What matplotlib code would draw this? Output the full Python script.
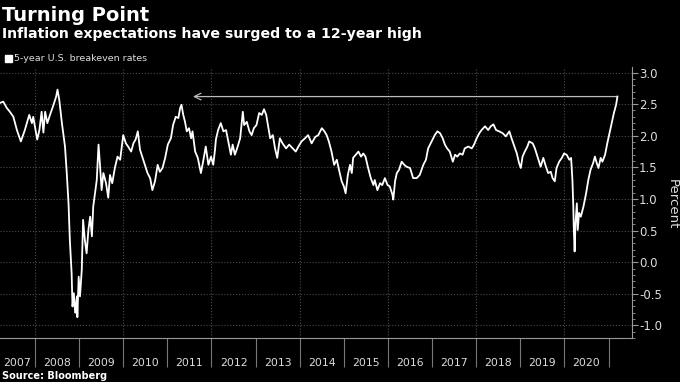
import matplotlib
matplotlib.use('Agg')
import matplotlib.pyplot as plt
from matplotlib.ticker import MultipleLocator, FixedLocator, NullFormatter

# 5-year U.S. breakeven rate (decimal year, percent)
years = [
    2007.21, 2007.28, 2007.36, 2007.43, 2007.51, 2007.59, 2007.68, 2007.77, 2007.87, 2007.93,
    2007.96, 2008.05, 2008.10, 2008.15, 2008.19, 2008.23, 2008.28, 2008.34, 2008.42, 2008.48,
    2008.51, 2008.55, 2008.61, 2008.68, 2008.72, 2008.76, 2008.79, 2008.83, 2008.85, 2008.88,
    2008.91, 2008.95, 2008.96, 2008.99, 2009.02, 2009.06, 2009.09, 2009.13, 2009.17, 2009.21,
    2009.25, 2009.29, 2009.32, 2009.36, 2009.40, 2009.44, 2009.47, 2009.51, 2009.55, 2009.61,
    2009.66, 2009.70, 2009.75, 2009.81, 2009.87, 2009.93, 2010.00, 2010.06, 2010.11, 2010.18,
    2010.23, 2010.28, 2010.33, 2010.38, 2010.43, 2010.49, 2010.55, 2010.61, 2010.66, 2010.72,
    2010.78, 2010.83, 2010.89, 2010.95, 2011.01, 2011.08, 2011.13, 2011.19, 2011.25, 2011.29,
    2011.32, 2011.36, 2011.40, 2011.44, 2011.49, 2011.54, 2011.57, 2011.63, 2011.69, 2011.76,
    2011.81, 2011.87, 2011.93, 2011.99, 2012.04, 2012.08, 2012.10, 2012.15, 2012.21, 2012.27,
    2012.33, 2012.38, 2012.44, 2012.48, 2012.53, 2012.58, 2012.65, 2012.71, 2012.74, 2012.80,
    2012.86, 2012.91, 2012.96, 2013.02, 2013.08, 2013.14, 2013.19, 2013.24, 2013.29, 2013.33,
    2013.39, 2013.44, 2013.49, 2013.55, 2013.61, 2013.69, 2013.76, 2013.84, 2013.91, 2013.97,
    2014.04, 2014.12, 2014.19, 2014.27, 2014.35, 2014.42, 2014.50, 2014.56, 2014.61, 2014.66,
    2014.72, 2014.78, 2014.84, 2014.89, 2014.95, 2015.00, 2015.04, 2015.09, 2015.14, 2015.18,
    2015.21, 2015.27, 2015.33, 2015.39, 2015.44, 2015.49, 2015.55, 2015.61, 2015.67, 2015.70,
    2015.76, 2015.82, 2015.87, 2015.93, 2015.99, 2016.04, 2016.10, 2016.12, 2016.16, 2016.20,
    2016.25, 2016.31, 2016.37, 2016.42, 2016.50, 2016.57, 2016.65, 2016.72, 2016.80, 2016.86,
    2016.91, 2016.99, 2017.06, 2017.12, 2017.18, 2017.24, 2017.29, 2017.34, 2017.40, 2017.47,
    2017.52, 2017.57, 2017.63, 2017.69, 2017.74, 2017.82, 2017.90, 2017.95, 2018.01, 2018.07,
    2018.12, 2018.20, 2018.27, 2018.33, 2018.39, 2018.45, 2018.52, 2018.60, 2018.67, 2018.75,
    2018.80, 2018.85, 2018.92, 2018.97, 2019.01, 2019.05, 2019.10, 2019.16, 2019.20, 2019.28,
    2019.33, 2019.41, 2019.46, 2019.52, 2019.58, 2019.63, 2019.69, 2019.73, 2019.78, 2019.82,
    2019.88, 2019.94, 2019.99, 2020.05, 2020.11, 2020.15, 2020.18, 2020.20, 2020.21, 2020.23,
    2020.25, 2020.28, 2020.30, 2020.33, 2020.37, 2020.43, 2020.49, 2020.54, 2020.59, 2020.65,
    2020.69, 2020.73, 2020.77, 2020.82, 2020.86, 2020.92, 2020.97, 2021.01, 2021.07, 2021.12,
    2021.17, 2021.20,
]
rates = [
    2.52, 2.54, 2.44, 2.38, 2.30, 2.09, 1.91, 2.09, 2.33, 2.20,
    2.30, 1.94, 2.09, 2.38, 2.05, 2.38, 2.20, 2.33, 2.49, 2.62,
    2.73, 2.57, 2.20, 1.83, 1.41, 0.93, 0.35, -0.17, -0.70, -0.49,
    -0.80, -0.54, -0.87, -0.23, -0.54, -0.12, 0.67, 0.35, 0.14, 0.51,
    0.72, 0.41, 0.88, 1.09, 1.30, 1.86, 1.57, 1.14, 1.41, 1.25,
    1.02, 1.38, 1.25, 1.49, 1.67, 1.62, 2.01, 1.88, 1.83, 1.75,
    1.88, 1.94, 2.07, 1.78, 1.67, 1.54, 1.41, 1.33, 1.14, 1.28,
    1.54, 1.43, 1.49, 1.65, 1.86, 1.96, 2.17, 2.30, 2.28, 2.44,
    2.49, 2.33, 2.22, 2.07, 2.12, 1.96, 2.07, 1.75, 1.65, 1.41,
    1.59, 1.83, 1.54, 1.67, 1.54, 1.78, 1.94, 2.09, 2.20, 2.07,
    2.09, 1.91, 1.70, 1.86, 1.70, 1.80, 1.96, 2.38, 2.17, 2.22,
    2.07, 2.01, 2.12, 2.17, 2.36, 2.33, 2.42, 2.33, 2.12, 1.96,
    2.01, 1.80, 1.65, 1.96, 1.88, 1.80, 1.86, 1.80, 1.75, 1.83,
    1.91, 1.96, 2.01, 1.88, 1.98, 2.01, 2.12, 2.07, 2.01, 1.91,
    1.75, 1.54, 1.62, 1.46, 1.28, 1.20, 1.09, 1.38, 1.54, 1.41,
    1.65, 1.70, 1.75, 1.67, 1.72, 1.67, 1.49, 1.33, 1.22, 1.30,
    1.14, 1.25, 1.22, 1.33, 1.22, 1.20, 1.07, 0.99, 1.28, 1.41,
    1.46, 1.59, 1.54, 1.51, 1.49, 1.33, 1.33, 1.38, 1.54, 1.62,
    1.80, 1.91, 2.01, 2.07, 2.04, 1.96, 1.86, 1.80, 1.75, 1.59,
    1.70, 1.67, 1.72, 1.70, 1.80, 1.83, 1.80, 1.86, 1.96, 2.04,
    2.09, 2.15, 2.09, 2.15, 2.18, 2.09, 2.07, 2.04, 1.99, 2.07,
    1.96, 1.86, 1.72, 1.57, 1.49, 1.67, 1.75, 1.83, 1.91, 1.88,
    1.80, 1.62, 1.51, 1.65, 1.51, 1.41, 1.43, 1.33, 1.28, 1.49,
    1.59, 1.65, 1.72, 1.70, 1.62, 1.65, 1.30, 0.88, 0.56, 0.17,
    0.62, 0.93, 0.51, 0.78, 0.72, 0.88, 1.09, 1.30, 1.46, 1.57,
    1.67, 1.57, 1.49, 1.65, 1.59, 1.70, 1.88, 2.01, 2.20, 2.36,
    2.49, 2.62,
]

year_labels = [str(y) for y in range(2007, 2021)]
label_pos = [2007.6] + [y + 0.5 for y in range(2008, 2021)]
arrow_from = 2021.20
arrow_to = 2011.58
arrow_level = 2.62

plt.rcParams['axes.unicode_minus'] = False
fig = plt.figure(figsize=(6.8, 3.82), dpi=100, facecolor='black')
ax = fig.add_axes([0.0, 0.115, 0.9294, 0.71])
ax.set_facecolor('black')

ax.plot(years, rates, color='white', linewidth=1.3, zorder=3)

ax.annotate('', xy=(arrow_to, arrow_level), xytext=(arrow_from, arrow_level),
            arrowprops=dict(arrowstyle='->', color='#bbbbbb', lw=0.9,
                            mutation_scale=12, shrinkA=0, shrinkB=0), zorder=2)

ax.set_xlim(2007.207, 2021.53)
ax.set_ylim(-1.2, 3.09)

# y axis on the right
ax.yaxis.tick_right()
ax.yaxis.set_major_locator(MultipleLocator(0.5))
ax.yaxis.set_minor_locator(MultipleLocator(0.1))
ax.yaxis.set_major_formatter(matplotlib.ticker.FormatStrFormatter('%.1f'))
ax.tick_params(axis='y', which='major', length=4, width=0.8, color='#999999',
               labelcolor='#dddddd', labelsize=8.5, pad=1)
ax.tick_params(axis='y', which='minor', length=2, width=0.6, color='#999999')
ax.yaxis.grid(True, which='major', color='#4a4a4a', linestyle=':', linewidth=0.8)
ax.set_axisbelow(True)

# x axis: long separators at year boundaries, labels in between
ax.xaxis.set_major_locator(FixedLocator(list(range(2008, 2022))))
ax.xaxis.set_major_formatter(NullFormatter())
ax.xaxis.set_minor_locator(FixedLocator(label_pos))
ax.xaxis.set_minor_formatter(matplotlib.ticker.FixedFormatter(year_labels))
ax.tick_params(axis='x', which='major', length=21, width=0.8, color='#777777')
ax.tick_params(axis='x', which='minor', length=0, labelcolor='#dddddd',
               labelsize=7.8, pad=14)
for y in range(2008, 2022, 2):
    ax.axvline(y, color='#4a4a4a', linestyle=':', linewidth=0.8, zorder=0)

for side in ['top', 'left']:
    ax.spines[side].set_visible(False)
for side in ['bottom', 'right']:
    ax.spines[side].set_color('#999999')
    ax.spines[side].set_linewidth(0.8)

fig.text(0.988, 0.466, 'Percent', rotation=270, color='#dddddd', fontsize=9.5,
         ha='center', va='center')

fig.text(0.003, 0.985, 'Turning Point', color='white', fontsize=14,
         fontweight='bold', ha='left', va='top')
fig.text(0.003, 0.93, 'Inflation expectations have surged to a 12-year high',
         color='white', fontsize=10.2, fontweight='bold', ha='left', va='top')
fig.patches.append(plt.Rectangle((0.008, 0.838), 0.0095, 0.017, color='white',
                                 transform=fig.transFigure, figure=fig))
fig.text(0.021, 0.847, '5-year U.S. breakeven rates', color='#dddddd',
         fontsize=6.8, ha='left', va='center')
fig.text(0.003, 0.003, 'Source: Bloomberg', color='white', fontsize=7,
         fontweight='bold', ha='left', va='bottom')

fig.savefig('out.png', dpi=100, facecolor='black')
